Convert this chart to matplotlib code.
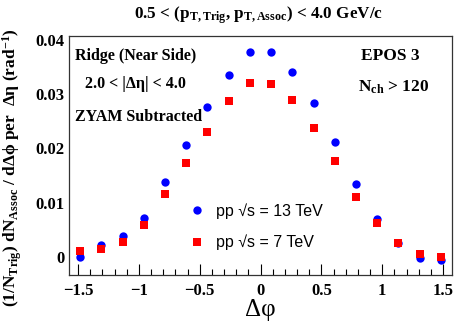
import matplotlib
matplotlib.use("Agg")
import numpy as np
from matplotlib import pyplot as plt
from matplotlib.ticker import MultipleLocator

# Delta-phi bin centres (18 bins of pi/18)
dphi = [-1.484, -1.309, -1.134, -0.960, -0.785, -0.611, -0.436, -0.262, -0.087,
        0.087, 0.262, 0.436, 0.611, 0.785, 0.960, 1.134, 1.309, 1.484]

# pp sqrt(s) = 13 TeV
yield_13 = [0.0001, 0.0022, 0.0039, 0.0072, 0.0138, 0.0206, 0.0277, 0.0336, 0.0378,
            0.0377, 0.0341, 0.0283, 0.0212, 0.0134, 0.0070, 0.0026, -0.0002, -0.0006]

# pp sqrt(s) = 7 TeV
yield_7 = [0.0011, 0.0015, 0.0028, 0.0059, 0.0116, 0.0174, 0.0231, 0.0288, 0.0320,
           0.0318, 0.0289, 0.0238, 0.0176, 0.0110, 0.0063, 0.0026, 0.0006, 0.0001]

label_13 = "pp \u221as = 13 TeV"
label_7 = "pp \u221as = 7 TeV"

plt.rcParams['mathtext.fontset'] = 'custom'
plt.rcParams['mathtext.rm'] = 'Liberation Serif:bold'
plt.rcParams['mathtext.it'] = 'Liberation Serif:bold'
plt.rcParams['mathtext.bf'] = 'Liberation Serif:bold'

serif = dict(family='Liberation Serif', weight='bold')

fig = plt.figure(figsize=(4.58, 3.27), dpi=100)
ax = fig.add_axes([0.1507, 0.159, 0.8362, 0.731])

ax.plot(dphi, yield_13, 'o', color='#0000ff', markersize=6, markeredgewidth=0,
        label=label_13)
ax.plot(dphi, yield_7, 's', color='#ff0000', markersize=5.2, markeredgewidth=0,
        label=label_7)

ax.set_xlim(-1.574, 1.574)
ax.set_ylim(-0.0033, 0.0407)

ax.xaxis.set_minor_locator(MultipleLocator(0.1))
ax.set_yticks([0, 0.01, 0.02, 0.03, 0.04])
ax.set_yticklabels(['0', '0.01', '0.02', '0.03', '0.04'])
ax.set_xticks([-1.5, -1, -0.5, 0, 0.5, 1, 1.5])
ax.set_xticklabels(['\u22121.5', '\u22121', '\u22120.5', '0', '0.5', '1', '1.5'])

ax.tick_params(axis='x', which='major', direction='in', length=8, width=0.8,
               pad=6, labelsize=12, top=False)
ax.tick_params(axis='x', which='minor', direction='in', length=4, width=0.8, top=False)
ax.tick_params(axis='y', which='both', length=0, pad=3, labelsize=12)
for lab in ax.get_xticklabels() + ax.get_yticklabels():
    lab.set_fontfamily('Liberation Serif')
    lab.set_fontweight('bold')

for sp in ax.spines.values():
    sp.set_linewidth(0.9)
    sp.set_color('#333333')

ax.set_xlabel("\u0394\u03c6", family='Liberation Serif', fontsize=18, labelpad=0)
ax.set_ylabel("(1/N$_{\\mathrm{Trig}}$) dN$_{\\mathrm{Assoc}}$ / d\u0394\u03d5 per  \u0394\u03b7 (rad$^{-1}$)",
              fontsize=12.5, **serif)
ax.yaxis.set_label_coords(-0.118, 0.45)

fig.text(0.565, 0.955, "0.5 < (p$_{\\mathrm{T,Trig}}$, p$_{\\mathrm{T,Assoc}}$) < 4.0 GeV/c",
         ha='center', va='center', fontsize=12.3, **serif)

ax.text(0.016, 0.915, "Ridge (Near Side)", transform=ax.transAxes, fontsize=11.5,
        va='center', **serif)
ax.text(0.042, 0.80, "2.0 < |\u0394\u03b7| < 4.0", transform=ax.transAxes, fontsize=11.5,
        va='center', **serif)
ax.text(0.016, 0.66, "ZYAM Subtracted", transform=ax.transAxes, fontsize=11.5,
        va='center', **serif)
ax.text(0.762, 0.915, "EPOS 3", transform=ax.transAxes, fontsize=12.5,
        va='center', **serif)
ax.text(0.755, 0.785, "N$_{\\mathrm{ch}}$ > 120", transform=ax.transAxes, fontsize=12.5,
        va='center', **serif)

leg = ax.legend(loc='upper left', bbox_to_anchor=(0.292, 0.335), frameon=False,
                borderpad=0, handlelength=1.0, handletextpad=0.7, labelspacing=1.0,
                prop={'family': 'Liberation Sans', 'size': 11.5})

fig.savefig("out.png", dpi=100)
